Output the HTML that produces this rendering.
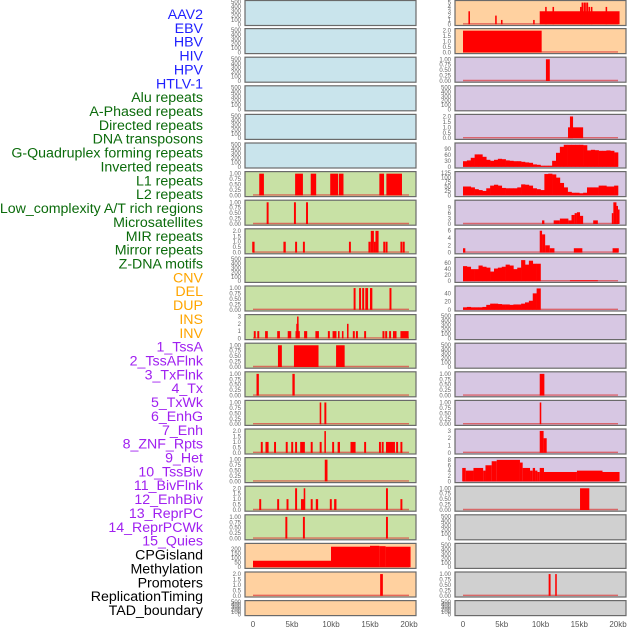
<!DOCTYPE html>
<html><head><meta charset="utf-8"><style>
html,body{margin:0;padding:0;background:#fff;}
svg{display:block;font-family:"Liberation Sans",sans-serif;}
</style></head><body>
<svg id="chart" width="630" height="630" viewBox="0 0 630 630" xmlns="http://www.w3.org/2000/svg"></svg>
<script>
const labels = ["AAV2","EBV","HBV","HIV","HPV","HTLV-1","Alu repeats","A-Phased repeats","Directed repeats","DNA transposons","G-Quadruplex forming repeats","Inverted repeats","L1 repeats","L2 repeats","Low_complexity A/T rich regions","Microsatellites","MIR repeats","Mirror repeats","Z-DNA motifs","CNV","DEL","DUP","INS","INV","1_TssA","2_TssAFlnk","3_TxFlnk","4_Tx","5_TxWk","6_EnhG","7_Enh","8_ZNF_Rpts","9_Het","10_TssBiv","11_BivFlnk","12_EnhBiv","13_ReprPC","14_ReprPCWk","15_Quies","CPGisland","Methylation","Promoters","ReplicationTiming","TAD_boundary"];
const labelGroups = ["b","b","b","b","b","b","g","g","g","g","g","g","g","g","g","g","g","g","g","o","o","o","o","o","p","p","p","p","p","p","p","p","p","p","p","p","p","p","p","k","k","k","k","k"];
const xTicks = [0,5,10,15,20];
const xTickLabels = ["0","5kb","10kb","15kb","20kb"];

const leftBg = ["lb","lb","lb","lb","lb","lb","gr","gr","gr","gr","gr","gr","gr","gr","gr","gr","gr","gr","gr","pe","pe","pe"];
const rightBg = ["pe","pe","la","la","la","la","la","la","la","la","la","la","la","la","la","la","la","gy","gy","gy","gy","gy"];

const E = [0,100,200,300,400,500];
const leftTicks = [E,E,E,E,E,E,[0,0.25,0.5,0.75,1],[0,0.25,0.5,0.75,1],[0,0.5,1,1.5,2],E,[0,0.25,0.5,0.75,1],[0,1,2,3],[0,0.25,0.5,0.75,1],[0,0.25,0.5,0.75,1],[0,0.25,0.5,0.75,1],[0,0.5,1,1.5,2],[0,0.25,0.5,0.75,1],[0,0.5,1,1.5,2],[0,0.25,0.5,0.75,1],[0,50,100,150,200],[0,0.5,1,1.5,2],E];
const leftYmax = [510,510,510,510,510,510,1.04,1.04,2.08,510,1.04,3.1,1.04,1.04,1.04,2.08,1.04,2.08,1.04,245,2.08,510];
const rightTicks = [[0,1,2,3,4,5],[0,0.5,1,1.5,2],[0,0.25,0.5,0.75,1],E,[0,0.5,1,1.5,2],[0,30,60,90],[0,25,50,75,100,125],[0,3,6,9],[0,2,4,6],[0,20,40,60],[0,20,40],E,E,[0,0.25,0.5,0.75,1],[0,0.25,0.5,0.75,1],[0,1,2,3],[0,2,4,6,8],[0,0.25,0.5,0.75,1],E,E,[0,0.25,0.5,0.75,1],E];
const rightYmax = [5.2,2.08,1.04,510,2.08,113,127,12.5,6.2,75,55,510,510,1.04,1.04,3.1,8.4,1.04,510,510,1.04,510];

// intervals: [startKb, endKb, value]
const leftBars = [
 [],[],[],[],[],[],
 [[0.8,1.4,1],[5.4,6.4,1],[7.4,8.1,1],[9.9,10.9,1],[11,11.6,1],[16.2,16.8,1],[17.1,19.1,1]],
 [[1.75,2.0,1],[5.25,5.5,1],[6.8,7.05,1]],
 [[-0.1,0.2,1],[3.9,4.2,1],[5.4,5.65,1],[6.4,6.65,1],[12.3,12.55,1],[14.8,15.1,1],[15.1,15.5,2],[15.7,16.1,2],[15.5,15.7,1],[16.7,16.95,1],[17.0,17.25,1],[18.9,19.15,1],[19.2,19.45,1]],
 [],
 [[12.9,13.15,1],[13.6,13.85,1],[14.0,14.25,1],[14.4,14.75,1],[15.0,15.3,1],[17.5,17.75,1]],
 [[0.1,0.35,1],[0.55,0.8,1],[1.55,1.9,1],[3.1,3.45,1],[4.45,4.9,1],[5.45,6.0,1],[5.55,5.85,2],[5.65,5.75,3],[6.55,6.95,1],[8.0,8.45,1],[9.6,9.85,1],[10.2,10.7,1],[10.9,11.1,1],[11.4,11.6,1],[12.05,12.25,2],[12.8,13.05,1],[13.2,13.45,1],[14.25,14.5,1],[16.6,16.85,1],[16.95,17.2,1],[17.45,17.7,1],[17.95,18.2,1],[18.2,18.4,1],[18.9,19.95,1]],
 [[3.2,3.7,1],[5.25,8.4,1],[10.65,11.75,1]],
 [[0.45,0.75,1],[5.05,5.35,1]],
 [[8.55,8.75,1],[9.15,9.4,1]],
 [[1.0,1.25,1],[1.6,2.0,1],[2.7,2.95,1],[4.2,4.45,1],[4.9,5.15,1],[5.4,5.65,1],[6.05,6.65,1],[7.4,7.65,1],[8.55,8.8,1],[9.15,9.35,2],[10.15,10.4,1],[10.85,11.15,1],[12.5,13.15,1],[14.25,14.5,1],[16.15,16.4,1],[16.5,16.75,1],[17.05,18.2,1],[18.35,18.6,1],[18.9,19.15,1]],
 [[9.2,9.55,1]],
 [[0.8,1.05,1],[3.1,3.35,1],[4.3,4.55,1],[5.4,5.65,2],[6.15,6.6,1],[6.5,6.7,2],[7.4,7.65,1],[8.05,8.35,1],[9.85,10.1,1],[10.4,10.7,1],[17.05,17.3,2],[18.9,19.15,1]],
 [[4.15,4.4,1],[6.4,6.65,1],[17.05,17.3,1]],
 [[0,10,70],[10,15,222],[15,16.2,232],[16.2,17,228],[17,20.2,222]],
 [[16.3,16.65,2]],
 []
];
const rightBars = [
 [[0.7,0.9,3],[4.15,4.35,2],[4.9,5.1,1],[9.05,9.25,1],[9.9,20.2,3],[10.6,10.8,4],[11.55,11.75,4],[15.1,15.3,4],[15.3,15.55,5],[15.6,15.85,5],[15.9,16.15,5],[16.2,16.4,4],[16.5,16.7,4],[18.4,18.6,4]],
 [[0,10.15,2]],
 [[10.7,11.2,1]],
 [],
 [[13.55,15.5,1],[13.8,14.2,2]],
 [],[],
 [[10.2,10.5,2],[11.7,12.5,2],[12.5,13.6,3],[13.6,14.0,2],[14.0,14.4,5],[14.4,14.7,6],[14.7,15.1,6.5],[15.1,15.5,4.5],[16.8,17.4,2],[19.2,19.4,6],[19.4,19.8,12],[19.8,20.0,10],[20.0,20.2,8]],
 [[0,0.3,1.2],[9.9,10.2,6],[10.2,10.6,5],[10.6,11.2,2],[11.2,11.8,1.2],[14.3,15.4,1.2],[19.3,20.1,1.2]],
 [[13.8,17.4,3]],
 [],
 [],[],
 [[9.9,10.5,1]],
 [[9.9,10.1,1]],
 [[9.9,10.4,3],[10.4,10.8,2]],
 [[-0.1,0.35,5],[0.35,1.35,4],[1.35,2.6,5],[2.6,2.9,4],[2.9,3.7,6],[3.7,4.35,7.5],[4.35,7.35,8],[7.35,7.7,7],[7.7,8.65,5],[8.65,9.0,4],[9.0,9.3,5],[9.3,9.6,4],[9.6,9.9,3.5],[9.9,10.45,5],[10.45,14.7,3.5],[14.7,18.0,4],[18.0,20.2,3.5]],
 [[15.1,16.3,1]],
 [],[],
 [[11.05,11.3,1],[11.9,12.1,1]],
 []
];
// binned profiles (0.5 kb bins starting at 0)
const profileGQ = [28,32,45,62,62,50,35,30,35,40,38,32,30,28,28,25,22,20,12,10,5,5,5,30,70,100,110,110,110,110,110,108,82,85,83,80,80,82,80,72];
const profileL1 = [50,50,45,35,30,25,40,55,60,55,42,40,40,40,45,62,60,55,40,35,30,120,122,118,100,70,45,20,15,15,12,15,45,45,45,55,55,50,50,55];
const profileMirror = [50,48,40,40,52,48,45,32,42,45,48,55,52,40,45,70,55,68,58,58];
const profileZDNA = [6,7,6,6,6,7,12,15,15,14,13,13,12,13,13,15,18,22,40,52];
const rightProfiles = {5: profileGQ, 6: profileL1, 9: profileMirror, 10: profileZDNA};

const bgColors = {lb:"#c9e4ec", pe:"#ffd1a0", la:"#d7c7e3", gr:"#c8e1a5", gy:"#d0d0d0"};
const grpColors = {b:"#1f1fff", g:"#0b6b0b", o:"#ffa500", p:"#a020f0", k:"#000000"};

const svg = document.getElementById("chart");
const NS = "http://www.w3.org/2000/svg";
function mk(tag, attrs, parent){ const e=document.createElementNS(NS,tag); for(const k in attrs) e.setAttribute(k,attrs[k]); (parent||svg).appendChild(e); return e; }

labels.forEach((t,i)=>{
  const e = mk("text",{x:203,y:15+i*13.86,"text-anchor":"end","dominant-baseline":"central","font-size":"14.2",fill:grpColors[labelGroups[i]]});
  e.textContent = t;
  
  
});

const cols = [
  {x0:245, x1:416, d0:253, d1:409, tickX:241, bg:leftBg, ticks:leftTicks, ymax:leftYmax, bars:leftBars, prof:{}},
  {x0:455, x1:626, d0:463, d1:618, tickX:451, bg:rightBg, ticks:rightTicks, ymax:rightYmax, bars:rightBars, prof:rightProfiles}
];

function fmt(v, ticks){
  const mx = Math.max(...ticks);
  if (mx===1) return v.toFixed(2);
  if (mx===2 && ticks.length===5) return v.toFixed(1);
  return String(v);
}

cols.forEach((c,ci)=>{
  const xs = kb => c.d0 + (kb/20)*(c.d1-c.d0);
  for(let r=0;r<22;r++){
    const top = r*28.6 + (r===0?0.5:0);
    const h = r===21 ? 15 : 25;
    const g = mk("g",{});
    
    
    mk("rect",{x:c.x0,y:top,width:c.x1-c.x0,height:h,fill:bgColors[c.bg[r]],stroke:"none"},g);
    const yb = top+h-1.2, yt = top+1.2;
    const ys = v => yb - (v/c.ymax[r])*(yb-yt);
    const hasData = c.bars[r].length>0 || c.prof[r];
    if (hasData) {
      const bl = mk("line",{x1:xs(0),x2:xs(20),y1:yb-0.5,y2:yb-0.5,stroke:"rgba(220,60,60,0.7)","stroke-width":1.4},g);
      
      
    }
    if (c.prof[r]) {
      c.prof[r].forEach((v,i)=>{
        const b = mk("rect",{x:xs(i*0.5),y:ys(v),width:xs(0.5)-xs(0)+0.3,height:yb-ys(v),fill:"#ff0000"},g);
        
        
      });
    }
    c.bars[r].forEach(iv=>{
      const x1=xs(iv[0]), x2=xs(iv[1]);
      const b = mk("rect",{x:x1,y:ys(iv[2]),width:Math.max(1.5,x2-x1),height:yb-ys(iv[2]),fill:"#ff0000"},g);
      
      
    });
    mk("rect",{x:c.x0,y:top,width:c.x1-c.x0,height:h,fill:"none",stroke:"#6a6a6a","stroke-width":1.2},g);
    c.ticks[r].forEach(v=>{
      const t = mk("text",{x:c.tickX,y:ys(v)+2,"text-anchor":"end","font-size":"6",fill:"#666"},g);
      t.textContent = fmt(v,c.ticks[r]);
      
      
    });
  }
  xTicks.forEach((v,i)=>{
    const t = mk("text",{x:xs(v),y:627,"text-anchor":"middle","font-size":"8",fill:"#555"});
    t.textContent = xTickLabels[i];
    
    
  });
});
</script>
</body></html>
